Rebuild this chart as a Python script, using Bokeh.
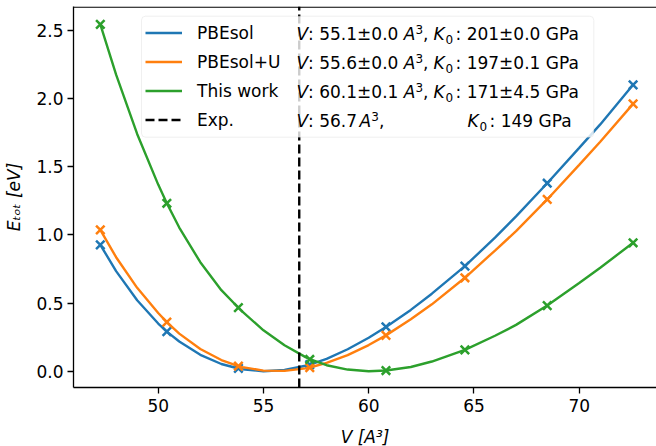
from bokeh.plotting import figure
from bokeh.models import (Range1d, Span, Label, Legend, LegendItem, FixedTicker,
                          NumeralTickFormatter, BoxAnnotation)
from bokeh.embed import file_html
from bokeh.resources import INLINE

# ---------------- data ----------------
methods = ["PBEsol", "PBEsol+U", "This work"]
colors = ["#1f77b4", "#ff7f0e", "#2ca02c"]
v0 = [55.1, 55.6, 60.1]
v0_err = [0.0, 0.0, 0.1]
k0 = [201, 197, 171]
k0_err = [0.0, 0.1, 4.5]
exp_label = "Exp."
exp_v0 = 56.7
exp_k0 = 149

# computed points (markers)
vol_points = [47.25, 50.41, 53.81, 57.20, 60.82, 64.57, 68.48, 72.56]
e_pbesol = [0.928, 0.291, 0.020, 0.048, 0.325, 0.771, 1.380, 2.103]
e_pbesol_u = [1.038, 0.360, 0.038, 0.027, 0.263, 0.686, 1.261, 1.963]
e_this = [2.546, 1.233, 0.466, 0.086, 0.005, 0.157, 0.482, 0.943]

# fitted curves
vol_fit = [47.25, 48, 49, 50, 50.41, 51, 52, 53, 53.81, 54, 55, 56, 57, 57.2,
           58, 59, 60, 60.82, 62, 63, 64.57, 66, 67, 68.48, 70, 71, 72.56]
fit_pbesol = [0.928, 0.735, 0.521, 0.350, 0.291, 0.218, 0.120, 0.053, 0.020, 0.014,
              0.000, 0.009, 0.040, 0.048, 0.091, 0.161, 0.246, 0.325, 0.450, 0.569,
              0.771, 0.981, 1.137, 1.380, 1.640, 1.812, 2.103]
fit_pbesol_u = [1.038, 0.837, 0.612, 0.427, 0.360, 0.276, 0.163, 0.082, 0.038, 0.030,
                0.004, 0.002, 0.021, 0.027, 0.061, 0.118, 0.192, 0.263, 0.381, 0.491,
                0.686, 0.886, 1.028, 1.261, 1.515, 1.685, 1.963]
fit_this = [2.546, 2.177, 1.742, 1.370, 1.233, 1.055, 0.800, 0.595, 0.466, 0.437,
            0.300, 0.190, 0.103, 0.089, 0.044, 0.012, 0.000, 0.005, 0.031, 0.071,
            0.157, 0.260, 0.340, 0.482, 0.648, 0.760, 0.943]

x_ticks = [50, 55, 60, 65, 70]
y_ticks = [0.0, 0.5, 1.0, 1.5, 2.0, 2.5]
x_title = "V [A\u00b3]"
y_title = "E\u209c\u2092\u209c [eV]"

points = [e_pbesol, e_pbesol_u, e_this]
fits = [fit_pbesol, fit_pbesol_u, fit_this]

# ---------------- layout (page pixels) ----------------
W, H = 656, 446
FL, FT, FW, FH = 73, 6, 583, 381
FB = FT + FH
X0, X1 = 45.976, 73.672
Y0, Y1 = -0.1197, 2.6777
FONT = "DejaVu Sans"
FS = 17
SUB = 12


def px_x(px):
    return X0 + (px - FL) * (X1 - X0) / FW


def px_y(py):
    return Y1 - (py - FT) * (Y1 - Y0) / FH


p = figure(frame_width=FW, frame_height=FH, output_backend="svg", toolbar_location=None,
           x_range=Range1d(X0, X1), y_range=Range1d(Y0, Y1),
           min_border_left=FL, min_border_right=0, min_border_top=FT,
           min_border_bottom=H - FB)
p.background_fill_color = "white"
p.border_fill_color = "white"
p.outline_line_color = None
p.xgrid.visible = False
p.ygrid.visible = False

for ax in (p.xaxis[0], p.yaxis[0]):
    ax.axis_line_width = 1.3
    ax.axis_line_color = "black"
    ax.major_tick_line_width = 1.3
    ax.major_tick_line_color = "black"
    ax.major_tick_out = 6
    ax.major_tick_in = 0
    ax.minor_tick_line_color = None
    ax.major_label_text_font = FONT
    ax.major_label_text_font_size = f"{FS}px"
    ax.major_label_text_color = "black"
    ax.axis_label_text_font = FONT
    ax.axis_label_text_font_size = f"{FS}px"
    ax.axis_label_text_font_style = "italic"
    ax.axis_label_text_color = "black"
p.xaxis.ticker = FixedTicker(ticks=x_ticks)
p.yaxis.ticker = FixedTicker(ticks=y_ticks)
p.yaxis.formatter = NumeralTickFormatter(format="0.0")
p.xaxis.major_label_standoff = 5
p.yaxis.major_label_standoff = 4
p.xaxis.axis_label = x_title
p.yaxis.axis_label = y_title
p.xaxis.axis_label_standoff = 12
p.yaxis.axis_label_standoff = 9

# top spine
p.add_layout(Span(location=Y1 - 0.7 * (Y1 - Y0) / FH, dimension="width",
                  line_color="black", line_width=1.3))

line_renderers = []
for i in range(3):
    p.scatter(vol_points, points[i], marker="x", size=12, line_color=colors[i],
              line_width=2.5)
    r = p.line(vol_fit, fits[i], line_color=colors[i], line_width=2.4)
    line_renderers.append(r)

# experimental volume: vertical dashed line across the whole frame
r_exp = p.line(x=[exp_v0, exp_v0], y=[Y0, Y1], line_color="black", line_width=2.4,
               line_dash="9 4")

# legend frame (semi-transparent box)
p.add_layout(BoxAnnotation(left=px_x(141), right=px_x(593.3), top=px_y(15.7),
                           bottom=px_y(136.7), fill_color="white", fill_alpha=0.8,
                           line_color="#cccccc", line_width=1, border_radius=4))


def main_text(txt, px, py, size=FS, style="normal"):
    p.add_layout(Label(x=px_x(px), y=px_y(py), text=txt, text_font=FONT,
                       text_font_size=f"{size}px", text_font_style=style,
                       text_color="black", text_align="left", text_baseline="middle"))


# legend value columns (row centres)
row_mid = [33, 62, 91, 120]
for i in range(3):
    c = row_mid[i]
    main_text("V", 296, c, style="italic")
    main_text(f": {v0[i]:.1f}\u00b1{v0_err[i]:.1f} ", 307.6, c)
    main_text("A", 403.3, c, style="italic")
    main_text("3", 415, c - 4.4, size=SUB)
    main_text(",", 422.6, c)
    main_text("K", 433, c, style="italic")
    main_text("0", 445, c + 6, size=SUB)
    main_text(f": {k0[i]}\u00b1{k0_err[i]:.1f} GPa", 455, c)
c = row_mid[3]
main_text("V", 296, c, style="italic")
main_text(f": {exp_v0:.1f} ", 307.6, c)
main_text("A", 359, c, style="italic")
main_text("3", 370.7, c - 4.4, size=SUB)
main_text(",", 378.5, c)
main_text("K", 467, c, style="italic")
main_text("0", 479, c + 6, size=SUB)
main_text(f": {exp_k0} GPa", 489, c)

items = [LegendItem(label=methods[i], renderers=[line_renderers[i]]) for i in range(3)]
items.append(LegendItem(label=exp_label, renderers=[r_exp]))
legend = Legend(items=items, location=(72, 257), margin=0, padding=7, spacing=8,
                glyph_width=37, glyph_height=21, label_height=21,
                label_standoff=15, label_text_font=FONT, label_text_font_size=f"{FS}px",
                label_text_color="black", border_line_color=None,
                background_fill_alpha=0.0)
p.add_layout(legend)

open("out.html", "w").write(file_html(p, INLINE))
